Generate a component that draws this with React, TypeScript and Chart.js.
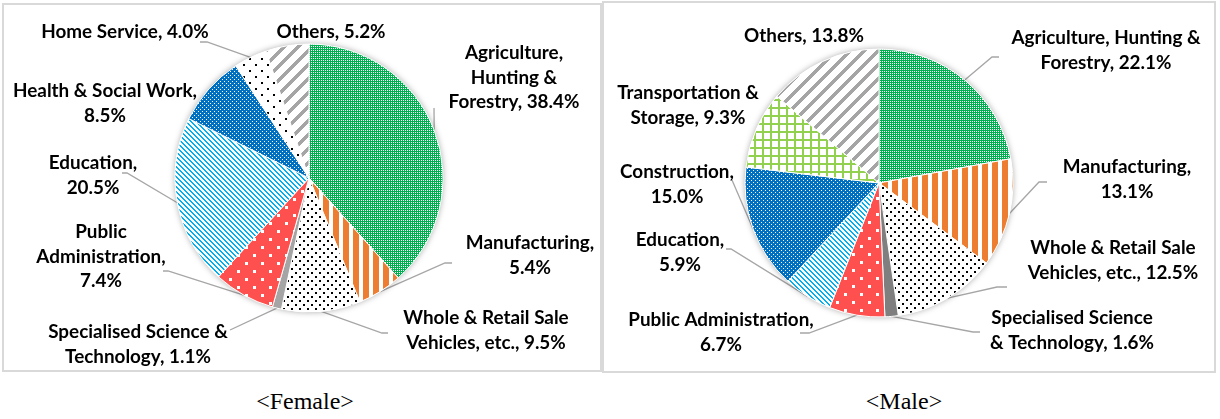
import React, { useEffect, useRef } from "react";
import { Chart, registerables } from "chart.js";
Chart.register(...registerables);

// ---------- DATA ----------
const femaleCategories = [
  "Agriculture, Hunting & Forestry",
  "Manufacturing",
  "Whole & Retail Sale Vehicles, etc.",
  "Specialised Science & Technology",
  "Public Administration",
  "Education",
  "Health & Social Work",
  "Home Service",
  "Others",
];
const femaleValues = [38.4, 5.4, 9.5, 1.1, 7.4, 20.5, 8.5, 4.0, 5.2];
const femaleLabelLines = [
  ["Agriculture,", "Hunting &", "Forestry, {v}"],
  ["Manufacturing,", "{v}"],
  ["Whole & Retail Sale", "Vehicles, etc., {v}"],
  ["Specialised Science &", "Technology, {v}"],
  ["Public", "Administration,", "{v}"],
  ["Education,", "{v}"],
  ["Health & Social Work,", "{v}"],
  ["Home Service, {v}"],
  ["Others, {v}"],
];

const maleCategories = [
  "Agriculture, Hunting & Forestry",
  "Manufacturing",
  "Whole & Retail Sale Vehicles, etc.",
  "Specialised Science & Technology",
  "Public Administration",
  "Education",
  "Construction",
  "Transportation & Storage",
  "Others",
];
const maleValues = [22.1, 13.1, 12.5, 1.6, 6.7, 5.9, 15.0, 9.3, 13.8];
const maleLabelLines = [
  ["Agriculture, Hunting &", "Forestry, {v}"],
  ["Manufacturing,", "{v}"],
  ["Whole & Retail Sale", "Vehicles, etc., {v}"],
  ["Specialised Science", "& Technology, {v}"],
  ["Public Administration,", "{v}"],
  ["Education,", "{v}"],
  ["Construction,", "{v}"],
  ["Transportation &", "Storage, {v}"],
  ["Others, {v}"],
];

// ---------- LAYOUT (label offsets from pie centre, leader line stubs) ----------
const femaleLabelPos = [
  [205, -125], [221, 65], [177, 140], [-171, 154], [-208, 54],
  [-216, -15], [-204, -87], [-184, -146], [22, -146],
];
const femaleLeaders = [
  [[125, -70]],
  [[143, 85], [136, 85]],
  [[79, 155], [73, 155]],
  [[-79, 152]],
  [[-146, 93], [-141, 93]],
  [[-187, -5], [-182, -5]],
  null,
  [[-109, -136], [-102, -136]],
  null,
];
const maleLabelPos = [
  [227, -145], [248, -16], [234, 65], [193, 135], [-158, 137],
  [-199, 57], [-202, -11], [-191, -90], [-75, -147],
];
const maleLeaders = [
  [[120, -126], [113, -126]],
  [[168, -1], [160, -1]],
  [[128, 104], [118, 104]],
  [[101, 149], [94, 149]],
  [[-79, 150], [-70, 150]],
  [[-153, 66], [-148, 66]],
  [[-147, -3]],
  null,
  null,
];

const femalePatternKinds = ["greenChecker", "orangeStripes", "blackDots", "grayLight", "redDots", "blueDiag", "blueDots", "sparseDots", "grayDiag"];
const malePatternKinds = ["greenChecker", "orangeStripes", "blackDots", "grayDark", "redDots", "blueDiag", "blueDots", "greenGrid", "grayDiag"];

// ---------- PATTERNS ----------
function tile(w: number, h: number, draw: (g: CanvasRenderingContext2D) => void) {
  const c = document.createElement("canvas");
  c.width = w;
  c.height = h;
  const g = c.getContext("2d")!;
  g.fillStyle = "#ffffff";
  g.fillRect(0, 0, w, h);
  draw(g);
  return g.createPattern(c, "repeat")!;
}

function makePatterns(): Record<string, CanvasPattern | string> {
  return {
    greenChecker: tile(2, 2, (g) => {
      g.fillStyle = "#00B050";
      g.fillRect(0, 0, 2, 2);
      g.fillStyle = "#ffffff";
      g.fillRect(0, 0, 1, 1);
    }),
    orangeStripes: tile(10, 4, (g) => {
      g.fillStyle = "#ED7D31";
      g.fillRect(0, 0, 6, 4);
    }),
    blackDots: tile(8, 8, (g) => {
      g.fillStyle = "#000000";
      g.fillRect(0, 0, 2, 2);
      g.fillRect(4, 4, 2, 2);
    }),
    sparseDots: tile(12, 12, (g) => {
      g.fillStyle = "#000000";
      g.fillRect(0, 0, 2, 2);
      g.fillRect(6, 6, 2, 2);
    }),
    redDots: tile(16, 16, (g) => {
      g.fillStyle = "#FF5050";
      g.fillRect(0, 0, 16, 16);
      g.fillStyle = "#ffffff";
      g.fillRect(2, 2, 3, 3);
      g.fillRect(10, 10, 3, 3);
    }),
    blueDiag: tile(5, 5, (g) => {
      g.fillStyle = "#00B0F0";
      for (let i = 0; i < 5; i++) {
        g.fillRect(i, i, 1, 1);
        g.fillRect((i + 1) % 5, i, 1, 1);
      }
    }),
    blueDots: tile(4, 4, (g) => {
      g.fillStyle = "#0070C0";
      g.fillRect(0, 0, 4, 4);
      g.fillStyle = "#ffffff";
      g.fillRect(1, 1, 1, 1);
      g.fillRect(3, 3, 1, 1);
    }),
    greenGrid: tile(8, 8, (g) => {
      g.fillStyle = "#92D050";
      g.fillRect(0, 0, 8, 2);
      g.fillRect(0, 0, 2, 8);
    }),
    grayDiag: tile(14, 14, (g) => {
      g.fillStyle = "#A5A5A5";
      for (let y = 0; y < 14; y++) {
        for (let k = 0; k < 5; k++) {
          g.fillRect((((13 - y + k) % 14) + 14) % 14, y, 1, 1);
        }
      }
    }),
    grayLight: "#A5A5A5",
    grayDark: "#7F7F7F",
  };
}

// ---------- LABEL PLUGIN ----------
const FONT_FAMILY = 'Lato, "Open Sans", "DejaVu Sans", sans-serif';
const LINE_H = 24.5;

function makeLabelPlugin(values: number[], lines: string[][], pos: number[][], leaders: (number[][] | null)[]) {
  return {
    id: "pieLabels",
    beforeDatasetsDraw(chart: any) {
      const ctx = chart.ctx as CanvasRenderingContext2D;
      const meta = chart.getDatasetMeta(0);
      const a0 = meta.data[0] as any;
      const cx = a0.x, cy = a0.y, r = a0.outerRadius;
      ctx.save();
      ctx.strokeStyle = "#A6A6A6";
      ctx.lineWidth = 1.3;
      meta.data.forEach((arc: any, i: number) => {
        const pts = leaders[i];
        if (!pts) return;
        const mid = (arc.startAngle + arc.endAngle) / 2;
        const px = cx + Math.cos(mid) * r;
        const py = cy + Math.sin(mid) * r;
        ctx.beginPath();
        ctx.moveTo(cx + pts[0][0], cy + pts[0][1]);
        for (let k = 1; k < pts.length; k++) ctx.lineTo(cx + pts[k][0], cy + pts[k][1]);
        ctx.lineTo(px, py);
        ctx.stroke();
      });
      ctx.shadowColor = "rgba(0,0,0,0.35)";
      ctx.shadowBlur = 6;
      ctx.fillStyle = "#ffffff";
      ctx.beginPath();
      ctx.arc(cx, cy, r, 0, Math.PI * 2);
      ctx.fill();
      ctx.restore();
    },
    afterDatasetsDraw(chart: any) {
      const ctx = chart.ctx as CanvasRenderingContext2D;
      const meta = chart.getDatasetMeta(0);
      const a0 = meta.data[0] as any;
      const cx = a0.x, cy = a0.y;
      ctx.save();
      ctx.font = `bold 20px ${FONT_FAMILY}`;
      const w = ctx.measureText("Health & Social Work,").width;
      const size = (20 * 184) / w;
      ctx.font = `bold ${size.toFixed(2)}px ${FONT_FAMILY}`;
      ctx.fillStyle = "#000000";
      ctx.textAlign = "center";
      ctx.textBaseline = "middle";
      lines.forEach((ls, i) => {
        const v = values[i].toFixed(1) + "%";
        ls.forEach((t, j) => {
          ctx.fillText(t.replace("{v}", v), cx + pos[i][0], cy + pos[i][1] + j * LINE_H);
        });
      });
      ctx.restore();
    },
  };
}

function makeChart(
  canvas: HTMLCanvasElement,
  categories: string[],
  values: number[],
  kinds: string[],
  lines: string[][],
  pos: number[][],
  leaders: (number[][] | null)[],
  padding: { left: number; right: number; top: number; bottom: number }
) {
  const pats = makePatterns();
  return new Chart(canvas, {
    type: "pie",
    data: {
      labels: categories,
      datasets: [
        {
          data: values,
          backgroundColor: kinds.map((k) => pats[k]) as any,
          borderColor: "#ffffff",
          borderWidth: 1,
          radius: 134,
        } as any,
      ],
    },
    options: {
      responsive: false,
      animation: false,
      devicePixelRatio: 1,
      events: [],
      layout: { padding },
      plugins: { legend: { display: false }, tooltip: { enabled: false } },
    } as any,
    plugins: [makeLabelPlugin(values, lines, pos, leaders) as any],
  });
}

export default function App() {
  const leftRef = useRef<HTMLCanvasElement>(null);
  const rightRef = useRef<HTMLCanvasElement>(null);

  useEffect(() => {
    const c1 = makeChart(leftRef.current!, femaleCategories, femaleValues, femalePatternKinds, femaleLabelLines, femaleLabelPos, femaleLeaders, { left: 172, right: 158, top: 40, bottom: 59 });
    const c2 = makeChart(rightRef.current!, maleCategories, maleValues, malePatternKinds, maleLabelLines, maleLabelPos, maleLeaders, { left: 143, right: 202, top: 46, bottom: 55 });
    return () => {
      c1.destroy();
      c2.destroy();
    };
  }, []);

  const box: React.CSSProperties = { position: "absolute", border: "2px solid #D9D9D9", boxSizing: "border-box" };
  const caption: React.CSSProperties = {
    position: "absolute",
    top: 388,
    width: 300,
    textAlign: "center",
    fontFamily: '"Liberation Serif", "Times New Roman", serif',
    fontSize: 24,
    lineHeight: "26px",
    color: "#000",
  };

  return (
    <div style={{ position: "absolute", left: 0, top: 0, width: 1220, height: 419, background: "#fff", overflow: "hidden" }}>
      <div style={{ ...box, left: 2, top: 3, width: 600, height: 369 }} />
      <div style={{ ...box, left: 602, top: 1, width: 614, height: 372 }} />
      <canvas ref={leftRef} width={598} height={367} style={{ position: "absolute", left: 3, top: 4, width: 598, height: 367 }} />
      <canvas ref={rightRef} width={613} height={369} style={{ position: "absolute", left: 602, top: 3, width: 613, height: 369 }} />
      <div style={{ ...caption, left: 305 - 150 }}>{"<Female>"}</div>
      <div style={{ ...caption, left: 904 - 150 }}>{"<Male>"}</div>
    </div>
  );
}
